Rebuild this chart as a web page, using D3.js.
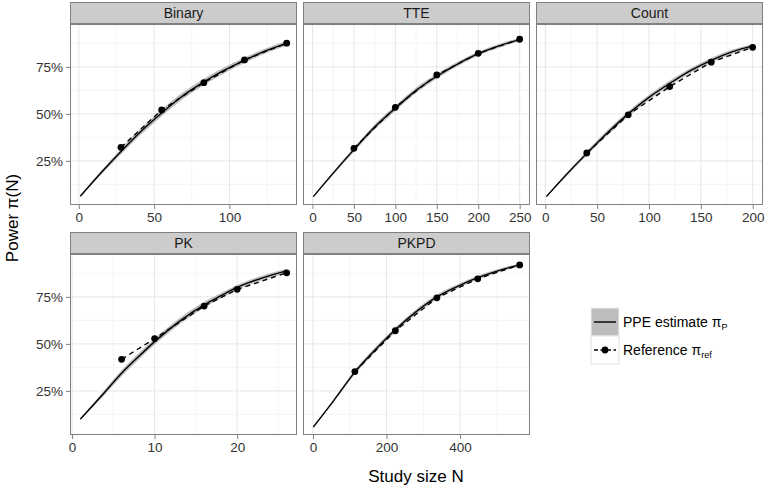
<!DOCTYPE html>
<html><head><meta charset="utf-8">
<script src="https://cdn.jsdelivr.net/npm/d3@7"></script>
<style>body{margin:0;background:#fff}svg{display:block;font-family:"Liberation Sans",Arial,sans-serif}</style>
</head><body><svg id="c" width="765" height="487"></svg>
<script>
// ---- data ----
const facets = ["Binary", "TTE", "Count", "PK", "PKPD"];
// PPE estimate curve (N, power) and ribbon bounds
const estN = {
  Binary: [1, 14, 28, 41, 55, 68, 82, 96, 110, 124, 138],
  TTE:    [1, 25, 50, 75, 100, 125, 150, 175, 200, 225, 250],
  Count:  [1, 20, 40, 60, 80, 100, 120, 140, 160, 180, 200],
  PK:     [1, 3.5, 6, 8, 10, 13, 16, 18, 20, 23, 26],
  PKPD:   [1, 57, 114, 170, 224, 280, 337, 392, 448, 505, 562]
};
const estP = {
  Binary: [0.062, 0.18, 0.300, 0.405, 0.505, 0.590, 0.665, 0.730, 0.785, 0.835, 0.875],
  TTE:    [0.060, 0.185, 0.310, 0.430, 0.530, 0.625, 0.700, 0.765, 0.820, 0.862, 0.895],
  Count:  [0.060, 0.175, 0.290, 0.400, 0.500, 0.588, 0.662, 0.730, 0.785, 0.830, 0.862],
  PK:     [0.100, 0.220, 0.344, 0.430, 0.512, 0.620, 0.708, 0.755, 0.800, 0.850, 0.888],
  PKPD:   [0.058, 0.200, 0.350, 0.470, 0.575, 0.670, 0.750, 0.805, 0.852, 0.890, 0.920]
};
const estLo = {
  Binary: [0.058, 0.170, 0.285, 0.388, 0.488, 0.572, 0.648, 0.714, 0.770, 0.822, 0.862],
  TTE:    [0.057, 0.177, 0.298, 0.416, 0.516, 0.611, 0.687, 0.753, 0.809, 0.852, 0.886],
  Count:  [0.057, 0.167, 0.278, 0.386, 0.486, 0.574, 0.648, 0.717, 0.773, 0.819, 0.852],
  PK:     [0.095, 0.208, 0.328, 0.413, 0.495, 0.603, 0.692, 0.741, 0.787, 0.838, 0.877],
  PKPD:   [0.055, 0.192, 0.338, 0.457, 0.562, 0.657, 0.738, 0.794, 0.842, 0.881, 0.912]
};
const estHi = {
  Binary: [0.066, 0.190, 0.315, 0.422, 0.522, 0.608, 0.682, 0.746, 0.800, 0.848, 0.888],
  TTE:    [0.063, 0.193, 0.322, 0.444, 0.544, 0.639, 0.713, 0.777, 0.831, 0.872, 0.904],
  Count:  [0.063, 0.183, 0.302, 0.414, 0.514, 0.602, 0.676, 0.743, 0.797, 0.841, 0.872],
  PK:     [0.105, 0.232, 0.360, 0.447, 0.529, 0.637, 0.724, 0.769, 0.813, 0.862, 0.899],
  PKPD:   [0.061, 0.208, 0.362, 0.483, 0.588, 0.683, 0.762, 0.816, 0.862, 0.899, 0.928]
};
// Reference points
const refN = {
  Binary: [28, 55, 83, 110, 138],
  TTE:    [50, 100, 150, 200, 250],
  Count:  [40, 80, 120, 160, 200],
  PK:     [6, 10, 16, 20, 26],
  PKPD:   [114, 224, 337, 448, 562]
};
const refP = {
  Binary: [0.322, 0.521, 0.666, 0.787, 0.876],
  TTE:    [0.317, 0.535, 0.707, 0.822, 0.897],
  Count:  [0.292, 0.495, 0.645, 0.775, 0.854],
  PK:     [0.418, 0.528, 0.701, 0.790, 0.878],
  PKPD:   [0.353, 0.570, 0.745, 0.846, 0.920]
};
const xTicks = {
  Binary: [0, 50, 100],
  TTE: [0, 50, 100, 150, 200, 250],
  Count: [0, 50, 100, 150, 200],
  PK: [0, 10, 20],
  PKPD: [0, 200, 400]
};
const yTicks = [0.25, 0.5, 0.75];
const yMinor = [0.125, 0.375, 0.625, 0.875];

// ---- layout ----
const svg = d3.select("#c");
const FONT = "Liberation Sans, Arial, sans-serif";
const colL = [70, 303, 536], pw = 227;
const rowT = [2, 232], stripH = 22, ph = 181;
const y0 = d3.scaleLinear().domain([0.0155, 0.978]);

facets.forEach((f, i) => {
  const col = i % 3, row = Math.floor(i / 3);
  const left = colL[col], top = rowT[row] + stripH, bottom = top + ph;
  const xs = estN[f].concat(refN[f]);
  const mn = d3.min(xs), mx = d3.max(xs), pad = (mx - mn) * 0.05;
  const x = d3.scaleLinear().domain([mn - pad, mx + pad]).range([left, left + pw]);
  const y = y0.copy().range([bottom, top]);
  const g = svg.append("g");
  g.append("rect").attr("x", left).attr("y", top).attr("width", pw).attr("height", ph).attr("fill", "#fff");
  // minor grid
  const tk = xTicks[f], step = tk[1] - tk[0];
  const xMinor = [];
  for (let v = tk[0] - step / 2; v <= x.domain()[1]; v += step) if (v >= x.domain()[0]) xMinor.push(v);
  g.selectAll(".xm").data(xMinor).join("line").attr("x1", d => x(d)).attr("x2", d => x(d))
    .attr("y1", top).attr("y2", bottom).attr("stroke", "#f3f3f3").attr("stroke-width", 0.8);
  g.selectAll(".ym").data(yMinor).join("line").attr("y1", d => y(d)).attr("y2", d => y(d))
    .attr("x1", left).attr("x2", left + pw).attr("stroke", "#f3f3f3").attr("stroke-width", 0.8);
  g.selectAll(".xg").data(tk).join("line").attr("x1", d => x(d)).attr("x2", d => x(d))
    .attr("y1", top).attr("y2", bottom).attr("stroke", "#e6e6e6").attr("stroke-width", 1);
  g.selectAll(".yg").data(yTicks).join("line").attr("y1", d => y(d)).attr("y2", d => y(d))
    .attr("x1", left).attr("x2", left + pw).attr("stroke", "#e6e6e6").attr("stroke-width", 1);

  // ribbon
  const rib = estN[f].map((n, k) => ({ n, lo: estLo[f][k], hi: estHi[f][k] }));
  g.append("path").datum(rib).attr("fill", "#bdbdbd")
    .attr("d", d3.area().curve(d3.curveMonotoneX).x(d => x(d.n)).y0(d => y(d.lo)).y1(d => y(d.hi)));
  // estimate line
  const est = estN[f].map((n, k) => ({ n, p: estP[f][k] }));
  g.append("path").datum(est).attr("fill", "none").attr("stroke", "#000").attr("stroke-width", 1.4)
    .attr("d", d3.line().curve(d3.curveMonotoneX).x(d => x(d.n)).y(d => y(d.p)));
  // reference
  const ref = refN[f].map((n, k) => ({ n, p: refP[f][k] }));
  g.append("path").datum(ref).attr("fill", "none").attr("stroke", "#000").attr("stroke-width", 1.4)
    .attr("stroke-dasharray", "5,4")
    .attr("d", d3.line().x(d => x(d.n)).y(d => y(d.p)));
  g.selectAll(".pt").data(ref).join("circle").attr("cx", d => x(d.n)).attr("cy", d => y(d.p))
    .attr("r", 3.4).attr("fill", "#000");

  // border
  g.append("rect").attr("x", left + 0.5).attr("y", top + 0.5).attr("width", pw - 1).attr("height", ph - 1)
    .attr("fill", "none").attr("stroke", "#808080").attr("stroke-width", 1);
  // strip
  g.append("rect").attr("x", left + 0.5).attr("y", rowT[row] + 0.5).attr("width", pw - 1).attr("height", stripH - 1)
    .attr("fill", "#cccccc").attr("stroke", "#808080").attr("stroke-width", 1);
  g.append("text").attr("x", left + pw / 2).attr("y", rowT[row] + stripH / 2 + 5)
    .attr("text-anchor", "middle").attr("font-size", 14).attr("fill", "#1a1a1a").text(f);

  // x axis
  const xa = g.append("g").attr("transform", `translate(0,${bottom})`)
    .call(d3.axisBottom(x).tickValues(tk).tickSize(4).tickPadding(3).tickFormat(d3.format("d")));
  xa.select(".domain").remove();
  xa.selectAll("line").attr("stroke", "#808080");
  xa.selectAll("text").attr("font-size", 13.5).attr("fill", "#333").attr("font-family", FONT);
  // y axis (only first column)
  if (col === 0) {
    const ya = g.append("g").attr("transform", `translate(${left},0)`)
      .call(d3.axisLeft(y).tickValues(yTicks).tickSize(4).tickPadding(3).tickFormat(d3.format(".0%")));
    ya.select(".domain").remove();
    ya.selectAll("line").attr("stroke", "#808080");
    ya.selectAll("text").attr("font-size", 13.5).attr("fill", "#333").attr("font-family", FONT);
  }
});

// axis titles
svg.append("text").attr("x", 416).attr("y", 482).attr("text-anchor", "middle").attr("font-size", 17).text("Study size N");
const yt = svg.append("text").attr("transform", "translate(18,218) rotate(-90)").attr("text-anchor", "middle").attr("font-size", 17);
yt.append("tspan").text("Power \u03C0(N)");

// legend
const lg = svg.append("g");
const kx = 591, ky = 308, kw = 28, kh = 28;
lg.append("rect").attr("x", kx).attr("y", ky).attr("width", kw).attr("height", kh).attr("fill", "#bdbdbd").attr("stroke", "#f2f2f2");
lg.append("line").attr("x1", kx + 3).attr("x2", kx + kw - 3).attr("y1", ky + kh / 2).attr("y2", ky + kh / 2).attr("stroke", "#000").attr("stroke-width", 1.4);
lg.append("rect").attr("x", kx).attr("y", ky + kh).attr("width", kw).attr("height", kh).attr("fill", "#fff").attr("stroke", "#e0e0e0");
lg.append("line").attr("x1", kx + 3).attr("x2", kx + kw - 3).attr("y1", ky + kh * 1.5).attr("y2", ky + kh * 1.5).attr("stroke", "#000").attr("stroke-width", 1.4).attr("stroke-dasharray", "4,2.5");
lg.append("circle").attr("cx", kx + kw / 2).attr("cy", ky + kh * 1.5).attr("r", 3.4).attr("fill", "#000");
const t1 = lg.append("text").attr("x", 623).attr("y", ky + kh / 2 + 5).attr("font-size", 14);
t1.append("tspan").text("PPE estimate \u03C0");
t1.append("tspan").attr("font-size", 9).attr("dy", 3).text("P");
const t2 = lg.append("text").attr("x", 623).attr("y", ky + kh * 1.5 + 5).attr("font-size", 14);
t2.append("tspan").text("Reference \u03C0");
t2.append("tspan").attr("font-size", 9).attr("dy", 3).text("ref");
</script></body></html>
